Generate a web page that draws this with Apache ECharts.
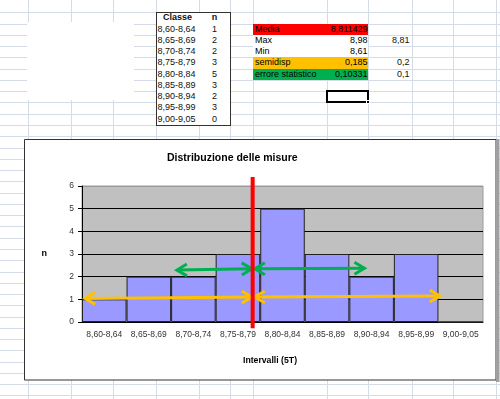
<!DOCTYPE html>
<html>
<head>
<meta charset="utf-8">
<script src="https://cdn.jsdelivr.net/npm/echarts@6/dist/echarts.min.js"></script>
<style>
html, body { margin: 0; padding: 0; background: #fff; }
#sheet { position: absolute; left: 0; top: 0; width: 500px; height: 399px; overflow: hidden;
  font-family: "Liberation Sans", Arial, sans-serif; font-size: 9px; color: #111; }
#sheet div { position: absolute; box-sizing: border-box; white-space: nowrap; }
#chart { position: absolute; left: 0; top: 0; width: 500px; height: 399px; }
</style>
</head>
<body>
<div id="sheet"></div>
<div id="chart"></div>
<script>
// dati
var classi = ["8,60-8,64", "8,65-8,69", "8,70-8,74", "8,75-8,79", "8,80-8,84", "8,85-8,89", "8,90-8,94", "8,95-8,99", "9,00-9,05"];
var conteggi = [1, 2, 2, 3, 5, 3, 2, 3, 0];
var statNomi = ["Media", "Max", "Min", "semidisp", "errore statistico"];
var statValori = ["8,811429", "8,98", "8,61", "0,185", "0,10331"];
var statExtra = ["", "8,81", "", "0,2", "0,1"];
var yTicks = [0, 1, 2, 3, 4, 5, 6];
// linea della media e frecce disegnate a mano, in unita' di classe (x) e n (y)
var lineaMedia = [[3.83, -0.28, 3.83, 6.4]];
var frecceVerdi = [[2.13, 2.29, 3.81, 2.35], [3.88, 2.35, 6.34, 2.37]];
var frecceGialle = [[0.07, 1.04, 3.81, 1.1], [3.88, 1.1, 8.03, 1.15]];

var FONT = '"Liberation Sans", Arial, sans-serif';
var sheet = document.getElementById('sheet');
var RH = 11.27, R0 = 12.3;
function rowY(k) { return R0 + k * RH; }
function box(x, y, w, h, css, text) {
  var d = document.createElement('div');
  d.style.cssText = 'left:' + x + 'px;top:' + y + 'px;width:' + w + 'px;height:' + h + 'px;' + (css || '');
  if (text != null) d.textContent = text;
  sheet.appendChild(d);
  return d;
}

// griglia del foglio
var colonne = [28, 71, 113, 156, 199, 230, 253, 327, 368, 412, 453, 496];
colonne.forEach(function (x) { box(x, 0, 1, 399, 'background:#D5DBE7'); });
for (var k = 0; k < 35; k++) box(0, Math.round(rowY(k)), 500, 1, 'background:#D5DBE7');
box(27, 22, 107, 78, 'background:#fff');

// tabella classi
box(156, 12, 75, 114, 'background:#fff;border:1px solid #333');
var lh = 'line-height:' + RH + 'px;';
box(156, rowY(0), 43, RH, lh + 'text-align:center;font-weight:bold;', 'Classe');
box(199, rowY(0), 31, RH, lh + 'text-align:center;font-weight:bold;', 'n');
classi.forEach(function (c, i) {
  box(157.5, rowY(i + 1), 42, RH, lh, c);
  box(199, rowY(i + 1), 31, RH, lh + 'text-align:center;', String(conteggi[i]));
});

// statistiche
var statColori = ['#FF0000', '#fff', '#fff', '#FFC000', '#00B050'];
box(253, rowY(1), 115, RH * 5, 'background:#fff');
statNomi.forEach(function (s, i) {
  box(253, rowY(i + 1), 115, RH + 0.5, 'background:' + statColori[i]);
  box(255, rowY(i + 1), 80, RH, lh + 'color:#000;', s);
  box(300, rowY(i + 1), 67.5, RH, lh + 'text-align:right;color:#000;', statValori[i]);
  if (statExtra[i]) box(368, rowY(i + 1), 41.5, RH, lh + 'text-align:right;', statExtra[i]);
});
box(326, rowY(7) - 0.8, 43, 13, 'border:2px solid #000');
box(366, rowY(8) - 2, 4, 4, 'background:#000;border:1px solid #fff');

// grafico
var chart = echarts.init(document.getElementById('chart'));

function renderFreccia(params, api) {
  var a = api.coord([api.value(0), api.value(1)]);
  var b = api.coord([api.value(2), api.value(3)]);
  var col = api.visual('color');
  var dx = b[0] - a[0], dy = b[1] - a[1], len = Math.sqrt(dx * dx + dy * dy);
  var ux = dx / len, uy = dy / len;
  function punta(p, sx, sy) {
    return {
      type: 'polyline',
      shape: { points: [[p[0] + sx * 10 - sy * 6, p[1] + sy * 10 + sx * 6], [p[0], p[1]], [p[0] + sx * 10 + sy * 6, p[1] + sy * 10 - sx * 6]] },
      style: { stroke: col, lineWidth: 3, fill: null }
    };
  }
  return {
    type: 'group',
    children: [
      { type: 'line', shape: { x1: a[0], y1: a[1], x2: b[0], y2: b[1] }, style: { stroke: col, lineWidth: 3 } },
      punta(a, ux, uy), punta(b, -ux, -uy)
    ]
  };
}

function renderLinea(params, api) {
  var a = api.coord([api.value(0), api.value(1)]);
  var b = api.coord([api.value(2), api.value(3)]);
  return { type: 'line', shape: { x1: a[0], y1: a[1], x2: b[0], y2: b[1] }, style: { stroke: api.visual('color'), lineWidth: 4 } };
}

var option = {
  animation: false,
  title: {
    text: 'Distribuzione delle misure', left: 162, top: 148,
    textStyle: { fontFamily: FONT, fontSize: 10.5, fontWeight: 'bold', color: '#000' }
  },
  graphic: [
    { type: 'rect', z: -10, shape: { x: 24.5, y: 139.5, width: 471.5, height: 240.5 }, style: { fill: '#fff', stroke: '#333', lineWidth: 1 } },
    { type: 'rect', z: -10, shape: { x: 496, y: 139, width: 3.5, height: 243 }, style: { fill: '#A0A0A0' } },
    { type: 'text', x: 270, y: 361, style: { text: 'Intervalli (5T)', font: 'bold 8.7px ' + FONT, fill: '#000', align: 'center', verticalAlign: 'middle' } }
  ],
  grid: { left: 82, top: 186, width: 401, height: 136, show: true, backgroundColor: '#C0C0C0', borderColor: '#9A9A9A', borderWidth: 1 },
  xAxis: [{
    type: 'category', data: classi,
    axisLine: { lineStyle: { color: '#000', width: 1 } },
    axisTick: { length: 4, lineStyle: { color: '#000' } },
    axisLabel: { interval: 0, fontFamily: FONT, fontSize: 8.5, color: '#333', margin: 8 },
    splitLine: { show: false }
  }, {
    type: 'value', min: 0, max: 9, show: false
  }],
  yAxis: {
    type: 'value', min: yTicks[0], max: yTicks[yTicks.length - 1], interval: 1,
    name: 'n', nameLocation: 'middle', nameGap: 35, nameRotate: 0,
    nameTextStyle: { fontFamily: FONT, fontSize: 9, fontWeight: 'bold', color: '#000' },
    axisLine: { show: true, lineStyle: { color: '#000' } },
    axisTick: { show: true, length: 4, lineStyle: { color: '#000' } },
    axisLabel: { fontFamily: FONT, fontSize: 8.5, color: '#333', margin: 8 },
    splitLine: { show: true, lineStyle: { color: ['#000', '#000', '#000', '#000', '#000', '#000', '#9A9A9A'], width: 1 } }
  },
  series: [
    {
      type: 'bar', data: conteggi, barCategoryGap: 0, z: 2,
      itemStyle: { color: '#9999FF', borderColor: '#222', borderWidth: 1 }
    },
    { type: 'custom', xAxisIndex: 1, z: 4, itemStyle: { color: '#00B050' }, renderItem: renderFreccia, data: frecceVerdi },
    { type: 'custom', xAxisIndex: 1, z: 4, itemStyle: { color: '#FFC000' }, renderItem: renderFreccia, data: frecceGialle },
    { type: 'custom', xAxisIndex: 1, z: 5, itemStyle: { color: '#FF0000' }, renderItem: renderLinea, data: lineaMedia }
  ]
};
chart.setOption(option);
</script>
</body>
</html>
